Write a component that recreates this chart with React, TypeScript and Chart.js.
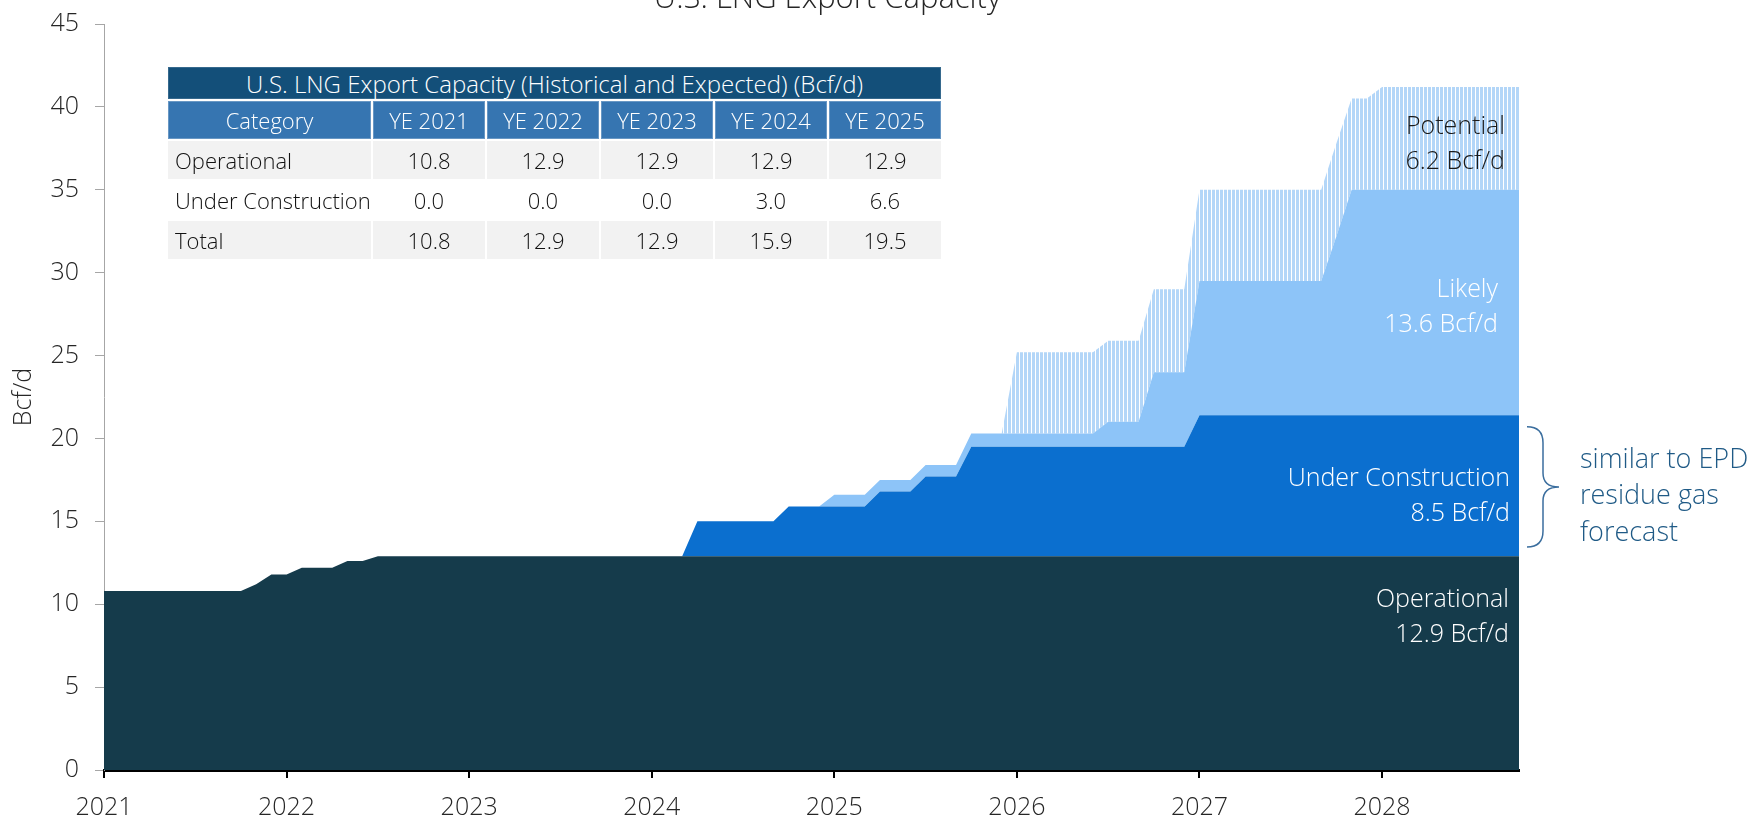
import React, { useEffect, useRef } from "react";
import { Chart, registerables } from "chart.js";

Chart.register(...registerables);

const FONT = "'Open Sans', 'DejaVu Sans', sans-serif";

// ---------- Data ----------
const firstYear = 2021;
const monthCount = 94; // Jan 2021 .. Oct 2028
const months: string[] = Array.from({ length: monthCount }, (_, i) =>
  `${firstYear + Math.floor(i / 12)}-${String((i % 12) + 1).padStart(2, "0")}`
);

const yearTicks = [2021, 2022, 2023, 2024, 2025, 2026, 2027, 2028];

// Bcf/d, monthly, stacked increments
const operational = [
  10.8, 10.8, 10.8, 10.8, 10.8, 10.8, 10.8, 10.8, 10.8, 10.8, 11.2, 11.8, // 2021
  11.8, 12.2, 12.2, 12.2, 12.6, 12.6, 12.9, 12.9, 12.9, 12.9, 12.9, 12.9, // 2022
  12.9, 12.9, 12.9, 12.9, 12.9, 12.9, 12.9, 12.9, 12.9, 12.9, 12.9, 12.9, // 2023
  12.9, 12.9, 12.9, 12.9, 12.9, 12.9, 12.9, 12.9, 12.9, 12.9, 12.9, 12.9, // 2024
  12.9, 12.9, 12.9, 12.9, 12.9, 12.9, 12.9, 12.9, 12.9, 12.9, 12.9, 12.9, // 2025
  12.9, 12.9, 12.9, 12.9, 12.9, 12.9, 12.9, 12.9, 12.9, 12.9, 12.9, 12.9, // 2026
  12.9, 12.9, 12.9, 12.9, 12.9, 12.9, 12.9, 12.9, 12.9, 12.9, 12.9, 12.9, // 2027
  12.9, 12.9, 12.9, 12.9, 12.9, 12.9, 12.9, 12.9, 12.9, 12.9,             // 2028
];

const underConstruction = [
  0, 0, 0, 0, 0, 0, 0, 0, 0, 0, 0, 0,                                     // 2021
  0, 0, 0, 0, 0, 0, 0, 0, 0, 0, 0, 0,                                     // 2022
  0, 0, 0, 0, 0, 0, 0, 0, 0, 0, 0, 0,                                     // 2023
  0, 0, 0, 2.1, 2.1, 2.1, 2.1, 2.1, 2.1, 3.0, 3.0, 3.0,                   // 2024
  3.0, 3.0, 3.0, 3.9, 3.9, 3.9, 4.8, 4.8, 4.8, 6.6, 6.6, 6.6,             // 2025
  6.6, 6.6, 6.6, 6.6, 6.6, 6.6, 6.6, 6.6, 6.6, 6.6, 6.6, 6.6,             // 2026
  8.5, 8.5, 8.5, 8.5, 8.5, 8.5, 8.5, 8.5, 8.5, 8.5, 8.5, 8.5,             // 2027
  8.5, 8.5, 8.5, 8.5, 8.5, 8.5, 8.5, 8.5, 8.5, 8.5,                       // 2028
];

const likely = [
  0, 0, 0, 0, 0, 0, 0, 0, 0, 0, 0, 0,                                     // 2021
  0, 0, 0, 0, 0, 0, 0, 0, 0, 0, 0, 0,                                     // 2022
  0, 0, 0, 0, 0, 0, 0, 0, 0, 0, 0, 0,                                     // 2023
  0, 0, 0, 0, 0, 0, 0, 0, 0, 0, 0, 0,                                     // 2024
  0.7, 0.7, 0.7, 0.7, 0.7, 0.7, 0.7, 0.7, 0.7, 0.8, 0.8, 0.8,             // 2025
  0.8, 0.8, 0.8, 0.8, 0.8, 0.8, 1.5, 1.5, 1.5, 4.5, 4.5, 4.5,             // 2026
  8.1, 8.1, 8.1, 8.1, 8.1, 8.1, 8.1, 8.1, 8.1, 10.8, 13.6, 13.6,          // 2027
  13.6, 13.6, 13.6, 13.6, 13.6, 13.6, 13.6, 13.6, 13.6, 13.6,             // 2028
];

const potential = [
  0, 0, 0, 0, 0, 0, 0, 0, 0, 0, 0, 0,                                     // 2021
  0, 0, 0, 0, 0, 0, 0, 0, 0, 0, 0, 0,                                     // 2022
  0, 0, 0, 0, 0, 0, 0, 0, 0, 0, 0, 0,                                     // 2023
  0, 0, 0, 0, 0, 0, 0, 0, 0, 0, 0, 0,                                     // 2024
  0, 0, 0, 0, 0, 0, 0, 0, 0, 0, 0, 0,                                     // 2025
  4.9, 4.9, 4.9, 4.9, 4.9, 4.9, 4.9, 4.9, 4.9, 5.0, 5.0, 5.0,             // 2026
  5.5, 5.5, 5.5, 5.5, 5.5, 5.5, 5.5, 5.5, 5.5, 5.6, 5.5, 5.5,             // 2027
  6.2, 6.2, 6.2, 6.2, 6.2, 6.2, 6.2, 6.2, 6.2, 6.2,                       // 2028
];

// Table
const tableTitle = "U.S. LNG Export Capacity (Historical and Expected) (Bcf/d)";
const tableColumns = ["YE 2021", "YE 2022", "YE 2023", "YE 2024", "YE 2025"];
const tableOperational = [10.8, 12.9, 12.9, 12.9, 12.9];
const tableUnderConstruction = [0.0, 0.0, 0.0, 3.0, 6.6];
const tableTotal = [10.8, 12.9, 12.9, 15.9, 19.5];

// Annotations
const chartTitle = "U.S. LNG Export Capacity";
const areaLabels = [
  { lines: ["Potential", "6.2 Bcf/d"], value: 37.3, color: "#1a1a1a", inset: 14 },
  { lines: ["Likely", "13.6 Bcf/d"], value: 27.5, color: "#ffffff", inset: 21 },
  { lines: ["Under Construction", "8.5 Bcf/d"], value: 16.1, color: "#ffffff", inset: 9 },
  { lines: ["Operational", "12.9 Bcf/d"], value: 8.8, color: "#ffffff", inset: 10 },
];
const noteLines = ["similar to EPD", "residue gas", "forecast"];
const braceRange = [13.45, 20.7];

const toYear = (m: string) => {
  const [y, mo] = m.split("-").map(Number);
  return y + (mo - 1) / 12;
};

export default function App() {
  const canvasRef = useRef<HTMLCanvasElement>(null);

  useEffect(() => {
    const canvas = canvasRef.current!;
    const ctx = canvas.getContext("2d")!;

    const pc = document.createElement("canvas");
    pc.width = 4;
    pc.height = 4;
    const pctx = pc.getContext("2d")!;
    pctx.fillStyle = "#b3d6f8";
    pctx.fillRect(0, 0, 3, 4);
    const hatch = ctx.createPattern(pc, "repeat");

    const xs = months.map(toYear);
    const mk = (vals: number[]) => vals.map((v, i) => ({ x: xs[i], y: v }));

    const overlay = {
      id: "overlay",
      afterDraw(chart: any) {
        const c = chart.ctx;
        const area = chart.chartArea;
        const yScale = chart.scales.y;
        c.save();
        // title (partially cut at top)
        c.font = `300 31px ${FONT}`;
        c.fillStyle = "#262626";
        c.textAlign = "center";
        c.textBaseline = "alphabetic";
        c.fillText(chartTitle, (area.left + area.right) / 2 + 16, 8);

        // area labels
        c.font = `300 25px ${FONT}`;
        c.textAlign = "right";
        for (const l of areaLabels) {
          const cy = yScale.getPixelForValue(l.value);
          c.fillStyle = l.color;
          c.fillText(l.lines[0], area.right - l.inset, cy - 17.5);
          c.fillText(l.lines[1], area.right - l.inset, cy + 17.5);
        }

        // brace
        const y0 = yScale.getPixelForValue(braceRange[1]);
        const y1 = yScale.getPixelForValue(braceRange[0]);
        const ym = (y0 + y1) / 2;
        const xl = area.right + 8;
        const xs2 = area.right + 24;
        const xt = area.right + 40;
        c.strokeStyle = "#3b6e9e";
        c.lineWidth = 1.5;
        c.beginPath();
        c.moveTo(xl, y0);
        c.quadraticCurveTo(xs2, y0, xs2, y0 + 16);
        c.lineTo(xs2, ym - 14);
        c.quadraticCurveTo(xs2, ym, xt, ym);
        c.quadraticCurveTo(xs2, ym, xs2, ym + 14);
        c.lineTo(xs2, y1 - 16);
        c.quadraticCurveTo(xs2, y1, xl, y1);
        c.stroke();

        // note
        c.font = `300 27px ${FONT}`;
        c.fillStyle = "#1f5a86";
        c.textAlign = "left";
        noteLines.forEach((t, i) => {
          c.fillText(t, area.right + 61, ym - 19 + i * 36.5);
        });
        c.restore();
      },
    };

    const tickFont = { family: FONT, size: 25, weight: "300" as any };

    const chart = new Chart(canvas, {
      type: "line",
      data: {
        datasets: [
          { label: "Operational", data: mk(operational), backgroundColor: "#153b4b", borderWidth: 0, pointRadius: 0, fill: "origin" },
          { label: "Under Construction", data: mk(underConstruction), backgroundColor: "#0b6fcf", borderWidth: 0, pointRadius: 0, fill: "-1" },
          { label: "Likely", data: mk(likely), backgroundColor: "#8dc4f8", borderWidth: 0, pointRadius: 0, fill: "-1" },
          { label: "Potential", data: mk(potential), backgroundColor: hatch as any, borderWidth: 0, pointRadius: 0, fill: "-1" },
        ],
      },
      options: {
        responsive: false,
        animation: false,
        devicePixelRatio: 1,
        layout: { padding: { left: 0, top: 24, right: 241, bottom: 0 } },
        elements: { line: { tension: 0 } },
        plugins: {
          legend: { display: false },
          tooltip: { enabled: false },
          title: { display: false },
        },
        scales: {
          x: {
            type: "linear",
            min: firstYear,
            max: toYear(months[months.length - 1]),
            afterFit: (s: any) => { s.height = 48; s.paddingLeft = 0; s.paddingRight = 0; },
            afterBuildTicks: (s: any) => { s.ticks = yearTicks.map((v) => ({ value: v })); },
            ticks: {
              stepSize: 1,
              includeBounds: false,
              maxRotation: 0,
              autoSkip: false,
              font: tickFont,
              color: "#262626",
              padding: 15,
              callback: (v: any) => String(v),
            },
            grid: { drawOnChartArea: false, drawTicks: true, tickLength: 8, color: "#000000", lineWidth: 2 },
            border: { display: true, color: "#000000", width: 3 },
          },
          y: {
            stacked: true,
            min: 0,
            max: 45,
            afterFit: (s: any) => { s.width = 104; s.paddingTop = 0; s.paddingBottom = 0; },
            ticks: { stepSize: 5, font: tickFont, color: "#262626", padding: 16 },
            grid: { drawOnChartArea: false, drawTicks: true, tickLength: 9, color: "#a6a6a6", lineWidth: 1 },
            border: { display: true, color: "#a6a6a6", width: 1 },
            title: { display: true, text: "Bcf/d", font: tickFont, color: "#262626", padding: { top: 9, bottom: 0 } },
          },
        },
      },
      plugins: [overlay],
    } as any);

    return () => chart.destroy();
  }, []);

  const cellBase: React.CSSProperties = {
    display: "flex",
    alignItems: "center",
    justifyContent: "center",
    fontFamily: FONT,
    fontWeight: 300,
    fontSize: 22,
    color: "#111111",
    height: 38,
    whiteSpace: "nowrap",
    overflow: "hidden",
  };
  const rows = [
    { name: "Operational", vals: tableOperational, bg: "#f2f2f2" },
    { name: "Under Construction", vals: tableUnderConstruction, bg: "#ffffff" },
    { name: "Total", vals: tableTotal, bg: "#f2f2f2" },
  ];

  return (
    <div style={{ position: "fixed", left: 0, top: 0, width: 1760, height: 818, background: "#ffffff", overflow: "hidden" }}>
      <canvas ref={canvasRef} width={1760} height={818} style={{ display: "block", width: 1760, height: 818 }} />
      <div
        style={{
          position: "absolute",
          left: 168,
          top: 67,
          display: "grid",
          gridTemplateColumns: "203px repeat(5, 112px)",
          gap: 2,
        }}
      >
        <div style={{ ...cellBase, gridColumn: "1 / -1", height: 32, fontSize: 24, background: "#134f79", color: "#ffffff", boxShadow: "inset 0 0 0 1px rgba(255,255,255,0.15)" }}>
          {tableTitle}
        </div>
        <div style={{ ...cellBase, background: "#3675b1", color: "#ffffff", boxShadow: "inset 0 0 0 1px rgba(255,255,255,0.25)" }}>Category</div>
        {tableColumns.map((c) => (
          <div key={c} style={{ ...cellBase, background: "#3675b1", color: "#ffffff", boxShadow: "inset 0 0 0 1px rgba(255,255,255,0.25)" }}>{c}</div>
        ))}
        {rows.map((r) => (
          <React.Fragment key={r.name}>
            <div style={{ ...cellBase, justifyContent: "flex-start", paddingLeft: 7, background: r.bg }}>{r.name}</div>
            {r.vals.map((v, i) => (
              <div key={i} style={{ ...cellBase, background: r.bg }}>{v.toFixed(1)}</div>
            ))}
          </React.Fragment>
        ))}
      </div>
    </div>
  );
}
